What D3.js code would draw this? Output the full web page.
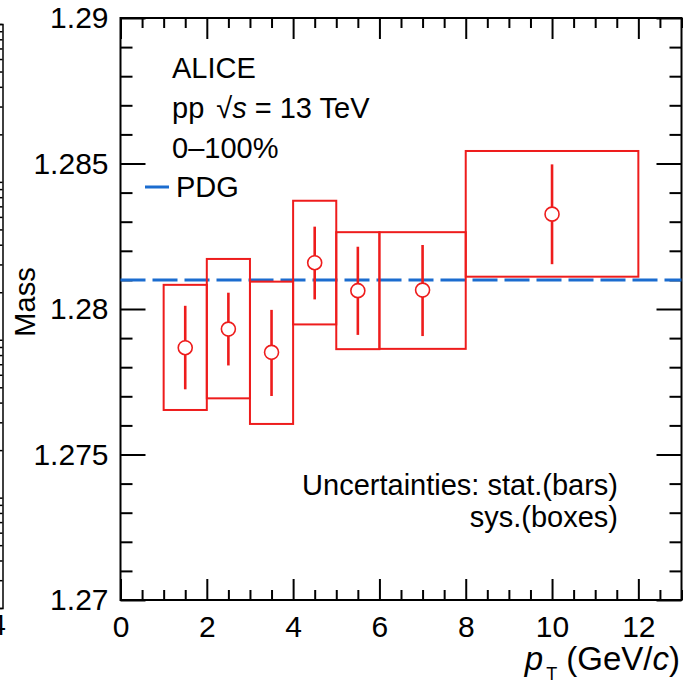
<!DOCTYPE html>
<html><head><meta charset="utf-8">
<script src="https://cdn.jsdelivr.net/npm/d3@7"></script>
<style>
body{margin:0;background:#fff}
svg{display:block;font-family:"Liberation Sans",Arial,Helvetica,sans-serif}
</style>
</head><body><svg id="c" width="685" height="685"></svg>
<script>
// ---- data ----
const binLow   = [1, 2, 3, 4, 5, 6, 8];
const binHigh  = [2, 3, 4, 5, 6, 8, 12];
const ptCenter = [1.5, 2.5, 3.5, 4.5, 5.5, 7, 10];
const mass     = [1.27867, 1.27931, 1.27851, 1.28159, 1.28063, 1.28065, 1.28326];
const statUp   = [1.28011, 1.28056, 1.27997, 1.28283, 1.28214, 1.28220, 1.28497];
const statDown = [1.27724, 1.27806, 1.27701, 1.28033, 1.27911, 1.27907, 1.28154];
const sysUp    = [1.28083, 1.28172, 1.28094, 1.28372, 1.28264, 1.28264, 1.28543];
const sysDown  = [1.27653, 1.27693, 1.27605, 1.27947, 1.27862, 1.27863, 1.28111];
const pdgMass  = 1.2810;
const xTicks = [0, 2, 4, 6, 8, 10, 12];
const yTicks = [1.27, 1.275, 1.28, 1.285, 1.29];
const yTickLabels = ["1.27", "1.275", "1.28", "1.285", "1.29"];
const legendLines = ["ALICE", "pp", "0\u2013100%", "PDG"];

// ---- layout ----
const L = 120.5, R = 681.5, T = 18, B = 600;
const RED = "#ee1c1c", BLUE = "#1b6ccf";
const svg = d3.select("#c");
const x = d3.scaleLinear().domain([0, 13]).range([L, R]);
const y = d3.scaleLinear().domain([1.27, 1.29]).range([B, T]);

const minorX = d3.range(0, 13.01, 0.5).filter(v => Math.abs(v / 2 - Math.round(v / 2)) > 1e-6);
const minorY = d3.range(0, 21).map(i => 1.27 + i * 0.001).filter((v, i) => i % 5 !== 0);

// cropped neighbouring panel at left edge
const yN = d3.scaleLog().domain([2e-4, 1]).range([608, 24]);
const gN = svg.append("g").attr("transform", "translate(2.5,0)");
gN.call(d3.axisLeft(yN).ticks(4).tickSize(6).tickFormat(""));
gN.selectAll("path,line").attr("stroke", "#000").attr("stroke-width", 1.5);
svg.append("text").attr("x", 6).attr("y", 635).attr("text-anchor", "end")
  .attr("font-size", 29).text("14");

function styleAxis(g) {
  g.select(".domain").remove();
  g.selectAll("line").attr("stroke", "#000").attr("stroke-width", 2);
  g.selectAll("text").attr("font-family", null).attr("font-size", 30).attr("fill", "#000");
}

// bottom
svg.append("g").attr("transform", `translate(0,${B})`)
  .call(d3.axisBottom(x).tickValues(xTicks).tickSize(-21).tickPadding(16).tickFormat(d3.format("d")))
  .call(styleAxis);
svg.append("g").attr("transform", `translate(0,${B})`)
  .call(d3.axisBottom(x).tickValues(minorX).tickSize(-10).tickFormat(""))
  .call(styleAxis);
// top
svg.append("g").attr("transform", `translate(0,${T})`)
  .call(d3.axisTop(x).tickValues(xTicks).tickSize(-21).tickFormat(""))
  .call(styleAxis);
svg.append("g").attr("transform", `translate(0,${T})`)
  .call(d3.axisTop(x).tickValues(minorX).tickSize(-10).tickFormat(""))
  .call(styleAxis);
// left
svg.append("g").attr("transform", `translate(${L},0)`)
  .call(d3.axisLeft(y).tickValues(yTicks).tickSize(-25).tickPadding(12)
    .tickFormat((d, i) => yTickLabels[i]))
  .call(styleAxis);
svg.append("g").attr("transform", `translate(${L},0)`)
  .call(d3.axisLeft(y).tickValues(minorY).tickSize(-12).tickFormat(""))
  .call(styleAxis);
// right
svg.append("g").attr("transform", `translate(${R},0)`)
  .call(d3.axisRight(y).tickValues(yTicks).tickSize(-25).tickFormat(""))
  .call(styleAxis);
svg.append("g").attr("transform", `translate(${R},0)`)
  .call(d3.axisRight(y).tickValues(minorY).tickSize(-12).tickFormat(""))
  .call(styleAxis);

// frame
svg.append("rect").attr("x", L).attr("y", T).attr("width", R - L).attr("height", B - T)
  .attr("fill", "none").attr("stroke", "#000").attr("stroke-width", 2);

// PDG line
svg.append("line").attr("x1", L).attr("x2", R).attr("y1", y(pdgMass)).attr("y2", y(pdgMass))
  .attr("stroke", BLUE).attr("stroke-width", 3).attr("stroke-dasharray", "25,7");

// systematic boxes
const idx = d3.range(mass.length);
svg.append("g").selectAll("rect").data(idx).join("rect")
  .attr("x", i => x(binLow[i])).attr("width", i => x(binHigh[i]) - x(binLow[i]))
  .attr("y", i => y(sysUp[i])).attr("height", i => y(sysDown[i]) - y(sysUp[i]))
  .attr("fill", "none").attr("stroke", RED).attr("stroke-width", 2);
// stat bars
svg.append("g").selectAll("line").data(idx).join("line")
  .attr("x1", i => x(ptCenter[i])).attr("x2", i => x(ptCenter[i]))
  .attr("y1", i => y(statUp[i])).attr("y2", i => y(statDown[i]))
  .attr("stroke", RED).attr("stroke-width", 2.6);
// markers
svg.append("g").selectAll("circle").data(idx).join("circle")
  .attr("cx", i => x(ptCenter[i])).attr("cy", i => y(mass[i])).attr("r", 7)
  .attr("fill", "#fff").attr("stroke", RED).attr("stroke-width", 1.6);

// axis titles
svg.append("text").attr("transform", "translate(35,302) rotate(-90)")
  .attr("text-anchor", "middle").attr("font-size", 29).text("Mass");
const xt = svg.append("text").attr("x", 680).attr("y", 670).attr("text-anchor", "end")
  .attr("font-size", 33).attr("xml:space", "preserve");
xt.append("tspan").attr("font-style", "italic").text("p");
xt.append("tspan").attr("font-size", 18).attr("dx", 3).attr("dy", 10).text("T");
xt.append("tspan").attr("dy", -10).text(" (GeV/");
xt.append("tspan").attr("font-style", "italic").text("c");
xt.append("tspan").text(")");

// annotations
const fs = 29;
svg.append("text").attr("x", 172).attr("y", 78).attr("font-size", fs).text(legendLines[0]);
const t2 = svg.append("text").attr("x", 172).attr("y", 118).attr("font-size", fs).attr("xml:space", "preserve");
t2.append("tspan").text(legendLines[1]);
t2.append("tspan").attr("dx", 12).text("\u221A");
t2.append("tspan").attr("font-style", "italic").text("s");
t2.append("tspan").text(" = 13 TeV");
svg.append("text").attr("x", 172).attr("y", 158).attr("font-size", fs).text(legendLines[2]);
svg.append("line").attr("x1", 145).attr("x2", 169).attr("y1", 187).attr("y2", 187)
  .attr("stroke", BLUE).attr("stroke-width", 3);
svg.append("text").attr("x", 176).attr("y", 197).attr("font-size", fs).text(legendLines[3]);

svg.append("text").attr("x", 618).attr("y", 495).attr("text-anchor", "end")
  .attr("font-size", fs).text("Uncertainties: stat.(bars)");
svg.append("text").attr("x", 618).attr("y", 527).attr("text-anchor", "end")
  .attr("font-size", fs).text("sys.(boxes)");
</script>
</body></html>
